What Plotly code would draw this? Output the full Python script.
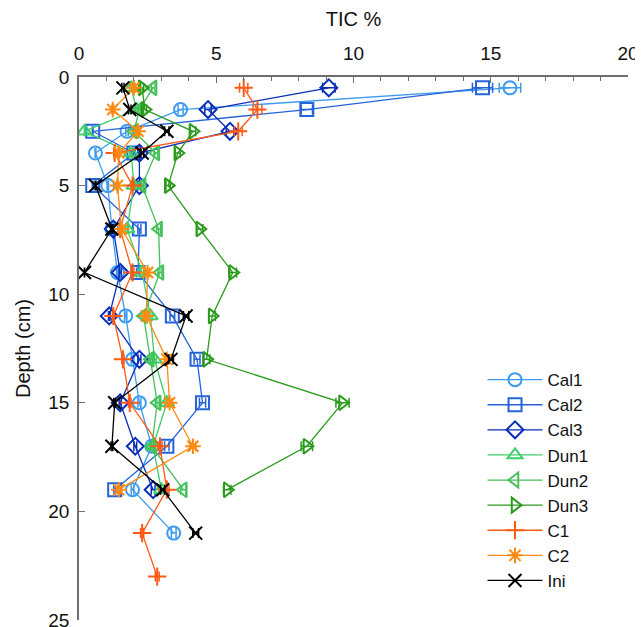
import plotly.graph_objects as go

depths = [0.5, 1.5, 2.5, 3.5, 5, 7, 9, 11, 13, 15, 17, 19]
depths_21 = depths + [21]
depths_23 = depths + [21, 23]

cal1 = [15.7, 3.7, 1.75, 0.6, 1.05, 1.2, 1.4, 1.7, 1.95, 2.2, 2.65, 1.95, 3.45]
cal2 = [14.7, 8.3, 0.5, 2.0, 0.5, 2.2, 2.15, 3.4, 4.3, 4.5, 3.2, 1.3]
cal3 = [9.1, 4.7, 5.5, 2.2, 2.2, 1.25, 1.5, 1.1, 2.2, 1.5, 2.05, 2.7]
dun1 = [1.9, 2.1, 0.2, 1.9, 2.0, 1.75, 2.3, 2.6, 2.75, 3.2, 2.7, 3.0]
dun2 = [2.7, 2.2, 2.0, 2.8, 2.3, 2.9, 2.95, 2.35, 2.6, 2.85, 2.65, 3.8]
dun3 = [2.3, 2.4, 4.15, 3.6, 3.25, 4.4, 5.6, 4.85, 4.65, 9.6, 8.3, 5.4]
c1 = [6.0, 6.5, 5.8, 1.3, 1.95, 1.5, 1.95, 1.25, 1.6, 1.85, 2.95, 3.2, 2.3, 2.85]
c2 = [2.0, 1.23, 2.15, 1.45, 1.4, 1.55, 2.5, 2.45, 3.2, 3.3, 4.15, 1.45]
ini = [1.6, 1.85, 3.2, 2.3, 0.6, 1.2, 0.2, 3.9, 3.35, 1.3, 1.2, 3.05, 4.25]

series = [
    ("Cal1", cal1, depths_21, "#3d9bf0", "circle-open"),
    ("Cal2", cal2, depths, "#2563d9", "square-open"),
    ("Cal3", cal3, depths, "#0a2fb8", "diamond-open"),
    ("Dun1", dun1, depths, "#3ccf6a", "triangle-up-open"),
    ("Dun2", dun2, depths, "#45c05a", "triangle-left-open"),
    ("Dun3", dun3, depths, "#2a9a1c", "triangle-right-open"),
    ("C1", c1, depths_23, "#ff5a14", "cross-thin-open"),
    ("C2", c2, depths, "#ff8a12", "asterisk-open"),
    ("Ini", ini, depths_21, "#000000", "x-thin-open"),
]

fig = go.Figure()
for name, xs, ys, col, sym in series:
    fig.add_trace(go.Scatter(
        x=xs, y=ys, name=name, mode="lines+markers",
        line=dict(color=col, width=1.3),
        marker=dict(symbol=sym, size=13, color=col, line=dict(color=col, width=2)),
        error_x=dict(type="percent", value=2.5, color=col, thickness=1.5, width=5),
    ))

axis_col = "#6e6e6e"
fig.update_layout(
    width=635, height=619,
    margin=dict(l=71, r=15, t=69, b=7, autoexpand=False),
    paper_bgcolor="white", plot_bgcolor="white",
    font=dict(family="Liberation Sans, Arial, sans-serif", size=19, color="#111"),
    xaxis=dict(
        side="top", range=[0, 20], tickvals=[0, 5, 10, 15, 20],
        ticks="inside", ticklen=6, tickcolor=axis_col, automargin=False,
        ticklabelstandoff=8, ticklabeloverflow="allow",
        minor=dict(dtick=1, ticks="inside", ticklen=4, tickcolor=axis_col, showgrid=False),
        showline=True, linecolor=axis_col, linewidth=1.5, showgrid=False, zeroline=False,
        title=dict(text="TIC %", font=dict(size=20), standoff=12),
    ),
    yaxis=dict(
        range=[25, 0], tickvals=[0, 5, 10, 15, 20, 25], automargin=False,
        ticks="inside", ticklen=6, tickcolor=axis_col,
        ticklabelstandoff=4, ticklabeloverflow="allow",
        showline=True, linecolor=axis_col, linewidth=1.5, showgrid=False, zeroline=False,
        title=dict(text="Depth (cm)", font=dict(size=20), standoff=12),
    ),
    legend=dict(
        x=0.735, y=0.475, xanchor="left", yanchor="top",
        bgcolor="rgba(255,255,255,0)", font=dict(size=17),
        itemwidth=55, tracegroupgap=0,
    ),
)

fig.write_html("out.html")
